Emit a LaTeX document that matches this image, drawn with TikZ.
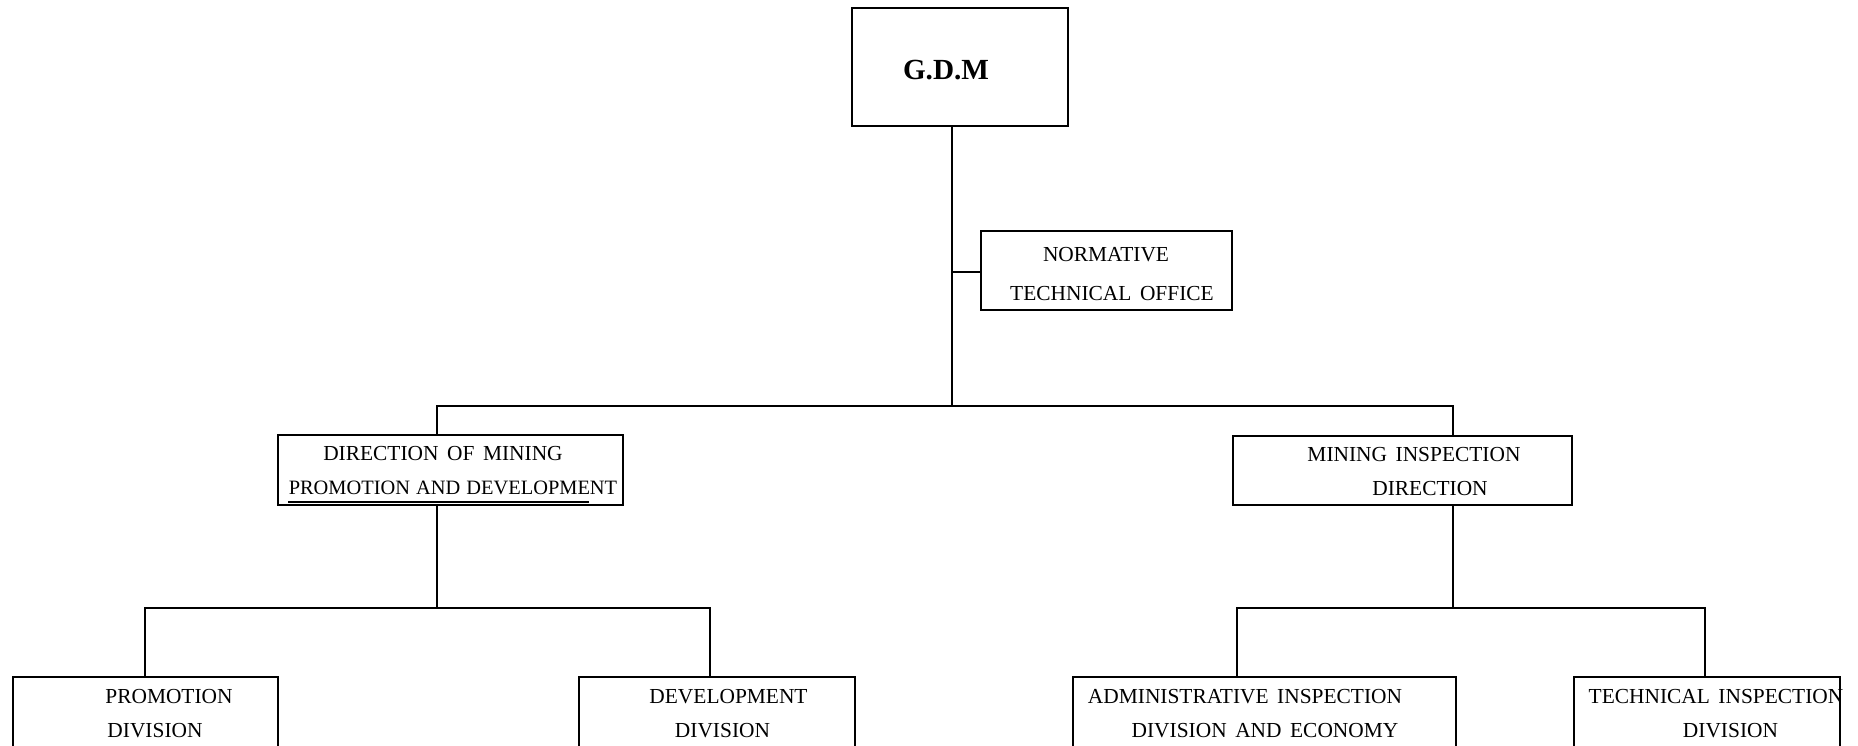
\documentclass[tikz,border=0pt]{standalone}
\usepackage{fontspec}
\setmainfont{Liberation Serif}
\newcommand{\lblfont}{\fontsize{10.7pt}{12pt}\selectfont\spaceskip 0.40em plus 0.1em\relax}
\newcommand{\lblfontn}{\fontsize{10.2pt}{12pt}\selectfont\spaceskip 0.30em plus 0.1em\relax}
\begin{document}
\begin{tikzpicture}[x=0.5pt,y=-0.5pt,line width=1pt,
  box/.style={draw,rectangle,inner sep=0pt},
  lbl/.style={inner sep=0pt,font=\lblfont},
  lbln/.style={inner sep=0pt,font=\lblfontn},
  bold/.style={inner sep=0pt,font=\fontsize{14.6pt}{16pt}\selectfont\bfseries}]
\useasboundingbox (0,0) rectangle (1858,745);
\clip (0,0) rectangle (1858,745);
% boxes
\node[box,minimum width=108pt,minimum height=59pt] (gdm) at (960,67) {};
\node[box,minimum width=125.5pt,minimum height=39.5pt] (norm) at (1106.5,270.5) {};
\node[box,minimum width=172.5pt,minimum height=35pt] (dirL) at (450.5,470) {};
\node[box,minimum width=169.5pt,minimum height=34.5pt] (dirR) at (1402.5,470) {};
\node[box,minimum width=132.5pt,minimum height=55pt] (promo) at (145.5,732) {};
\node[box,minimum width=138pt,minimum height=55pt] (devel) at (717,732) {};
\node[box,minimum width=191.5pt,minimum height=55pt] (admin) at (1264.5,732) {};
\node[box,minimum width=133pt,minimum height=55pt] (tech) at (1707,732) {};
% texts
\node[bold] (t0) at (946,70) {G.D.M};
\node[lbl] (t1) at (1106,255) {NORMATIVE};
\node[lbl] (t2) at (1112,294) {TECHNICAL OFFICE};
\node[lbl] (t3) at (443,454) {DIRECTION OF MINING};
\node[lbln] (t4) at (453,488) {PROMOTION AND DEVELOPMENT};
\node[lbl] (t5) at (1414,455) {MINING INSPECTION};
\node[lbl] (t6) at (1430,489) {DIRECTION};
\node[lbl] (t7) at (169,697) {PROMOTION};
\node[lbl] (t8) at (155,731) {DIVISION};
\node[lbl] (t9) at (728.5,697) {DEVELOPMENT};
\node[lbl] (t10) at (722.5,731) {DIVISION};
\node[lbl] (t11) at (1245,697) {ADMINISTRATIVE INSPECTION};
\node[lbl] (t12) at (1265,731) {DIVISION AND ECONOMY};
\node[lbl] (t13) at (1716,697) {TECHNICAL INSPECTION};
\node[lbl] (t14) at (1730.5,731) {DIVISION};
% underline
\coordinate (u1) at (288,502);
\coordinate (u2) at (589,502);
\draw (u1) -- (u2);
% connectors
\coordinate (bar) at (952,406);
\coordinate (nj) at (952,272);
\draw (gdm.south -| bar) -- (bar);
\draw (nj) -- (nj -| norm.west);
\draw (dirL.north -| 437,0) |- (bar) -| (dirR.north -| 1453,0);
\coordinate (lb) at (437,608);
\coordinate (rb) at (1453,608);
\draw (dirL.south -| lb) -- (lb);
\draw (promo.north -| 145,0) |- (lb) -| (devel.north -| 710,0);
\draw (dirR.south -| rb) -- (rb);
\draw (admin.north -| 1237,0) |- (rb) -| (tech.north -| 1705,0);
\end{tikzpicture}
\end{document}
